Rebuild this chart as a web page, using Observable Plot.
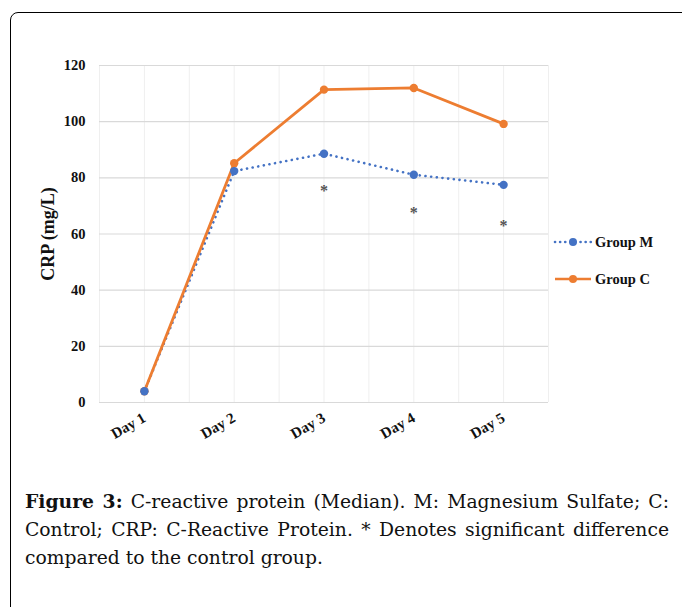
<!DOCTYPE html>
<html>
<head>
<meta charset="utf-8">
<script src="https://cdn.jsdelivr.net/npm/d3@7"></script>
<script src="https://cdn.jsdelivr.net/npm/@observablehq/plot@0.6"></script>
<style>
  html, body { margin: 0; padding: 0; background: #fff; width: 682px; height: 607px; overflow: hidden; }
  #frame { position: absolute; left: 10px; top: 12px; width: 720px; height: 640px; border: 1.5px solid #000; border-radius: 8px; box-sizing: border-box; }
  #chart { position: absolute; left: 0; top: 0; }
  #legend { position: absolute; left: 553px; top: 232px; font-family: "Liberation Serif", serif; font-weight: bold; font-size: 14.5px; color: #111; }
  #legend .row { display: flex; align-items: center; height: 20px; margin-bottom: 17px; }
  #legend svg { margin-right: 2px; }
  #caption { position: absolute; left: 25px; top: 487px; width: 644px; font-family: "DejaVu Serif", serif; font-size: 17.5px; line-height: 28px; color: #111; }
  #caption .j { display: block; text-align: justify; text-align-last: justify; white-space: nowrap; }
  #caption b { font-weight: bold; }
</style>
</head>
<body>
<div id="frame"></div>
<div id="chart"></div>
<div id="legend"></div>
<div id="caption">
  <span class="j"><b>Figure 3:</b> C-reactive protein (Median). M: Magnesium Sulfate; C:</span>
  <span class="j">Control; CRP: C-Reactive Protein. * Denotes significant difference</span>
  <span id="last">compared to the control group.</span>
</div>
<script>
const days = ["Day 1", "Day 2", "Day 3", "Day 4", "Day 5"];
const groupM = [4, 82.4, 88.6, 81.1, 77.5];
const groupC = [4, 85.2, 111.4, 112, 99.2];
const seriesNames = ["Group M", "Group C"];
const seriesColors = ["#4472C4", "#ED7D31"];
const starDays = [3, 4, 5];
const starValues = [76.5, 68.5, 63.8];
const yTicks = [0, 20, 40, 60, 80, 100, 120];
const xGrid = [0.5, 1, 1.5, 2, 2.5, 3, 3.5, 4, 4.5, 5, 5.5];

const dataM = days.map((d, i) => ({day: i + 1, value: groupM[i]}));
const dataC = days.map((d, i) => ({day: i + 1, value: groupC[i]}));
const stars = starDays.map((d, i) => ({day: d, value: starValues[i]}));

const serif = "'Liberation Serif', 'Times New Roman', serif";

const chart = Plot.plot({
  width: 682,
  height: 470,
  marginLeft: 99,
  marginRight: 134,
  marginTop: 65,
  marginBottom: 68,
  style: {fontFamily: serif, background: "transparent", color: "#111"},
  x: {type: "linear", domain: [0.5, 5.5]},
  y: {domain: [0, 120]},
  marks: [
    Plot.ruleX(xGrid, {stroke: "#efefef", strokeWidth: 1}),
    Plot.ruleY(yTicks, {stroke: "#d9d9d9", strokeWidth: 1.2}),
    Plot.axisY({ticks: yTicks, tickSize: 0, tickPadding: 14, fontWeight: "bold",
      label: "CRP (mg/L)", labelAnchor: "center", labelOffset: 58}),
    Plot.axisX({ticks: [1, 2, 3, 4, 5], tickFormat: d => days[d - 1], tickSize: 0, tickPadding: 14,
      tickRotate: -30, fontWeight: "bold", label: null}),
    Plot.line(dataM, {x: "day", y: "value", stroke: seriesColors[0], strokeWidth: 2.6,
      strokeDasharray: "0.1 5.6", strokeLinecap: "round"}),
    Plot.line(dataC, {x: "day", y: "value", stroke: seriesColors[1], strokeWidth: 2.8}),
    Plot.dot(dataC, {x: "day", y: "value", fill: seriesColors[1], r: 4.2}),
    Plot.dot(dataM, {x: "day", y: "value", fill: seriesColors[0], r: 4.2}),
    Plot.text(stars, {x: "day", y: "value", text: () => "*", fontSize: 16, fontWeight: "bold", fill: "#555", dy: 3})
  ]
});
chart.querySelectorAll('[aria-label="y-axis tick label"] text').forEach(t => { t.style.fontSize = "14.5px"; });
chart.querySelectorAll('[aria-label="x-axis tick label"] text').forEach(t => { t.style.fontSize = "15px"; });
const yl = chart.querySelector('[aria-label="y-axis label"]');
if (yl) {
  const t = yl.querySelector("text");
  if (t) { t.textContent = "CRP (mg/L)"; t.style.fontSize = "18px"; t.style.fontWeight = "bold"; }
}
document.getElementById("chart").appendChild(chart);

const legend = document.getElementById("legend");
seriesNames.forEach((name, i) => {
  const row = document.createElement("div");
  row.className = "row";
  const dash = i === 0 ? 'stroke-dasharray="0.1 5" stroke-linecap="round"' : '';
  row.innerHTML = `<svg width="40" height="12"><line x1="2" x2="38" y1="6" y2="6" stroke="${seriesColors[i]}" stroke-width="2.6" ${dash}/><circle cx="20" cy="6" r="4" fill="${seriesColors[i]}"/></svg><span>${name}</span>`;
  legend.appendChild(row);
});

// fit caption font so that last line width matches the original typesetting
const last = document.getElementById("last");
const w = last.getBoundingClientRect().width;
const cap = document.getElementById("caption");
const fs = Math.max(15, Math.min(21, 17.5 * 298 / w));
cap.style.fontSize = fs + "px";
</script>
</body>
</html>
